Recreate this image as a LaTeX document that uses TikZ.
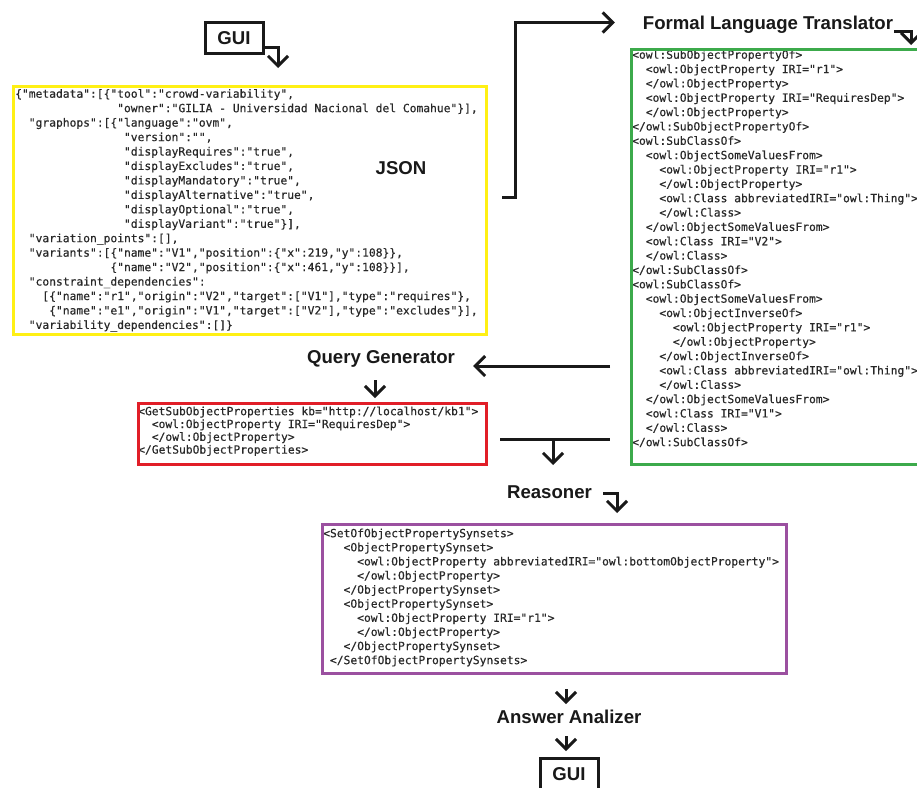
\documentclass[tikz,border=0pt]{standalone}
\usepackage{fontspec}
\usetikzlibrary{arrows.meta}
\newfontfamily\labelfont{Liberation Sans}
\newfontfamily\codefont{DejaVu Sans Mono}[Ligatures=TeXOff, FakeBold=0.4]
\definecolor{jsonyellow}{RGB}{255,240,20}
\definecolor{owlgreen}{RGB}{60,170,75}
\definecolor{queryred}{RGB}{225,30,40}
\definecolor{answerpurple}{RGB}{155,80,160}
\definecolor{codegray}{RGB}{40,40,40}
\definecolor{inkblack}{RGB}{25,25,25}
% indent by a number of monospaced columns
\newcommand\cols[1]{\hspace*{#1\dimexpr 6.8pt\relax}}
\newcommand\firstline{\rule{0pt}{10pt}}
\tikzset{
  lbl/.style={font=\labelfont\fontsize{18.6}{22}\selectfont\bfseries, text=inkblack,
    text height=13.3pt, text depth=0pt, inner sep=0pt},
  guibox/.style={lbl, draw=inkblack, line width=3pt, minimum width=58pt, minimum height=31pt},
  frame/.style={draw, line width=3pt, anchor=north west, inner sep=0pt},
  code/.style={anchor=north west, inner sep=0pt, align=left, text=codegray},
  flow/.style={line width=3pt, draw=inkblack, -{Straight Barb[length=10pt,width=20pt]}},
  plain/.style={line width=3pt, draw=inkblack},
}
\begin{document}
\begin{tikzpicture}[x=1pt, y=-1pt]
\useasboundingbox[fill=white] (0,0) rectangle (917,787);

% ---- code listings ----
\node[code, font=\codefont\fontsize{11.3}{14.45}\selectfont] (jsontext) at (15,87.5) {%
\firstline\{"metadata":[\{"tool":"crowd-variability",\\
\cols{15}"owner":"GILIA - Universidad Nacional del Comahue"\}],\\
\cols{2}"graphops":[\{"language":"ovm",\\
\cols{16}"version":"",\\
\cols{16}"displayRequires":"true",\\
\cols{16}"displayExcludes":"true",\\
\cols{16}"displayMandatory":"true",\\
\cols{16}"displayAlternative":"true",\\
\cols{16}"displayOptional":"true",\\
\cols{16}"displayVariant":"true"\}],\\
\cols{2}"variation\_points":[],\\
\cols{2}"variants":[\{"name":"V1","position":\{"x":219,"y":108\}\},\\
\cols{14}\{"name":"V2","position":\{"x":461,"y":108\}\}],\\
\cols{2}"constraint\_dependencies":\\
\cols{4}[\{"name":"r1","origin":"V2","target":["V1"],"type":"requires"\},\\
\cols{5}\{"name":"e1","origin":"V1","target":["V2"],"type":"excludes"\}],\\
\cols{2}"variability\_dependencies":[]\}};

\node[code, font=\codefont\fontsize{11.3}{14.35}\selectfont] (owltext) at (632,48.5) {%
\firstline<owl:SubObjectPropertyOf>\\
\cols{2}<owl:ObjectProperty IRI="r1">\\
\cols{2}</owl:ObjectProperty>\\
\cols{2}<owl:ObjectProperty IRI="RequiresDep">\\
\cols{2}</owl:ObjectProperty>\\
</owl:SubObjectPropertyOf>\\
<owl:SubClassOf>\\
\cols{2}<owl:ObjectSomeValuesFrom>\\
\cols{4}<owl:ObjectProperty IRI="r1">\\
\cols{4}</owl:ObjectProperty>\\
\cols{4}<owl:Class abbreviatedIRI="owl:Thing">\\
\cols{4}</owl:Class>\\
\cols{2}</owl:ObjectSomeValuesFrom>\\
\cols{2}<owl:Class IRI="V2">\\
\cols{2}</owl:Class>\\
</owl:SubClassOf>\\
<owl:SubClassOf>\\
\cols{2}<owl:ObjectSomeValuesFrom>\\
\cols{4}<owl:ObjectInverseOf>\\
\cols{6}<owl:ObjectProperty IRI="r1">\\
\cols{6}</owl:ObjectProperty>\\
\cols{4}</owl:ObjectInverseOf>\\
\cols{4}<owl:Class abbreviatedIRI="owl:Thing">\\
\cols{4}</owl:Class>\\
\cols{2}</owl:ObjectSomeValuesFrom>\\
\cols{2}<owl:Class IRI="V1">\\
\cols{2}</owl:Class>\\
</owl:SubClassOf>};

\node[code, font=\codefont\fontsize{11.3}{12.8}\selectfont] (querytext) at (138,405) {%
\firstline<GetSubObjectProperties kb="http://localhost/kb1">\\
\cols{2}<owl:ObjectProperty IRI="RequiresDep">\\
\cols{2}</owl:ObjectProperty>\\
</GetSubObjectProperties>};

\node[code, font=\codefont\fontsize{11.3}{14.1}\selectfont] (answertext) at (323,527) {%
\firstline<SetOfObjectPropertySynsets>\\
\cols{3}<ObjectPropertySynset>\\
\cols{5}<owl:ObjectProperty abbreviatedIRI="owl:bottomObjectProperty">\\
\cols{5}</owl:ObjectProperty>\\
\cols{3}</ObjectPropertySynset>\\
\cols{3}<ObjectPropertySynset>\\
\cols{5}<owl:ObjectProperty IRI="r1">\\
\cols{5}</owl:ObjectProperty>\\
\cols{3}</ObjectPropertySynset>\\
\cols{1}</SetOfObjectPropertySynsets>};

% ---- coloured frames round the listings ----
\node[frame, draw=jsonyellow, minimum width=473pt, minimum height=248pt] (jsonbox) at (12,85) {};
\node[frame, draw=owlgreen, minimum width=300pt, minimum height=415pt] (owlbox) at (630,48) {};
\node[frame, draw=queryred, line width=2.8pt, minimum width=348pt, minimum height=61pt] (querybox) at (137,402) {};
\node[frame, draw=answerpurple, line width=2.7pt, minimum width=464pt, minimum height=149pt] (answerbox) at (321,523) {};

% ---- stage labels ----
\node[guibox] (guitop) at (234,37.5) {GUI};
\node[lbl] (jsonlbl) at (401,167.5) {JSON};
\node[lbl] (flt) at (768,22.5) {Formal Language Translator};
\node[lbl] (qgen) at (381,356.5) {Query Generator};
\node[lbl] (reasoner) at (549.5,491.5) {Reasoner};
\node[lbl] (analizer) at (569,717) {Answer Analizer};
\node[guibox] (guibottom) at (569,773.5) {GUI};

% ---- connector end points ----
\coordinate (jsontip) at (278,68);
\coordinate (jsonout) at (502,197);
\coordinate (owltip) at (911,45);
\coordinate (owlout) at (610,366);
\coordinate (qgtip) at (473,366);
\coordinate (qgdown) at (375,380);
\coordinate (barleft) at (500,439);
\coordinate (barright) at (610,439);
\coordinate (bardown) at (553,439);
\coordinate (reastip) at (617,513);
\coordinate (anstop) at (566,689);
\coordinate (ansnext) at (566,736);

% ---- connectors ----
\draw[flow] ([yshift=-9.5pt]guitop.east) -| (jsontip);
\draw[flow] (jsonout) -- ++(13,0) |- ([xshift=-28pt]flt.west);
\draw[flow] ([yshift=-8.5pt, xshift=1pt]flt.east) -| (owltip);
\draw[flow] (owlout) -- (qgtip);
\draw[flow] (qgdown) -- ++(0,18);
\draw[plain] (barleft) -- (barright);
\draw[flow] (bardown) -- ++(0,26);
\draw[flow] ([yshift=-1.5pt, xshift=11pt]reasoner.east) -| (reastip);
\draw[flow] (anstop) -- ++(0,15);
\draw[flow] (ansnext) -- ++(0,15);
\end{tikzpicture}
\end{document}
